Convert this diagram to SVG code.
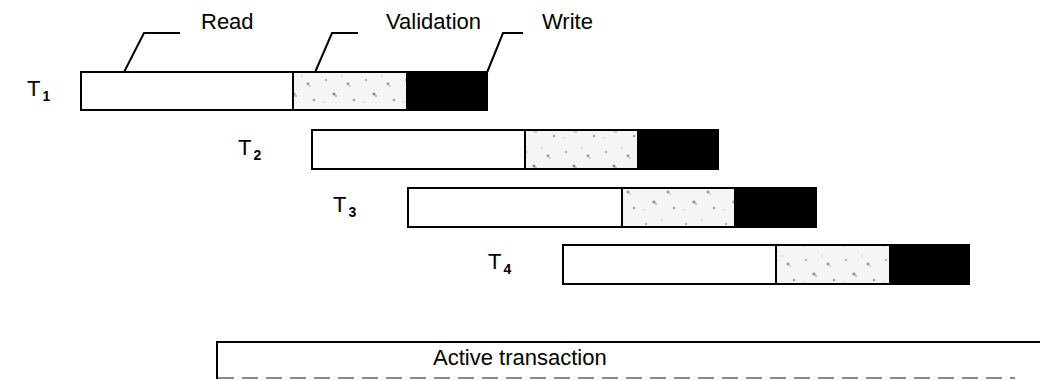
<svg xmlns="http://www.w3.org/2000/svg" width="1040" height="381" viewBox="0 0 1040 381">
<style>
.lbl{font-family:"Liberation Sans",Arial,sans-serif;font-size:22px;fill:#000}
.tl{font-family:"Liberation Sans",Arial,sans-serif;font-size:22px;fill:#000}
.sub{font-family:"Liberation Sans",Arial,sans-serif;font-size:14px;font-weight:bold;fill:#000}
.rd{fill:#fff;stroke:#000;stroke-width:2}
.vl{fill:url(#speck);stroke:#000;stroke-width:2}
.wr{fill:#000;stroke:#000;stroke-width:2}
.lead{fill:none;stroke:#000;stroke-width:2}
</style>
<defs>
<pattern id="speck" width="40" height="36" patternUnits="userSpaceOnUse">
<rect width="40" height="36" fill="#f5f5f5"/>
<circle cx="6" cy="8" r="1" fill="#999"/>
<circle cx="14" cy="22" r="1.6" fill="#888"/>
<circle cx="16" cy="24" r="1" fill="#aaa"/>
<circle cx="28" cy="12" r="1.4" fill="#999"/>
<circle cx="30" cy="14" r="0.8" fill="#aaa"/>
<circle cx="34" cy="28" r="1.2" fill="#999"/>
<circle cx="22" cy="4" r="0.8" fill="#bbb"/>
<circle cx="4" cy="30" r="0.8" fill="#bbb"/>
</pattern>
</defs>
<g id="labels">
<text class="lbl" x="201" y="29">Read</text>
<text class="lbl" x="386" y="29">Validation</text>
<text class="lbl" x="542" y="29">Write</text>
</g>
<g id="connectors">
<polyline class="lead" points="121,78 144,33 180,33"/>
<polyline class="lead" points="313,77 332,33 358,33"/>
<polyline class="lead" points="486,75 503,33 523,33"/>
</g>
<g id="T1">
<text class="tl" x="27" y="96">T<tspan class="sub" dy="5" dx="2">1</tspan></text>
<rect class="rd" x="81" y="72" width="212" height="38"/>
<rect class="vl" x="293" y="72" width="114" height="38"/>
<rect class="wr" x="407" y="72" width="80" height="38"/>
</g>
<g id="T2">
<text class="tl" x="238" y="155">T<tspan class="sub" dy="5" dx="2">2</tspan></text>
<rect class="rd" x="312" y="130" width="213" height="39"/>
<rect class="vl" x="525" y="130" width="113" height="39"/>
<rect class="wr" x="638" y="130" width="80" height="39"/>
</g>
<g id="T3">
<text class="tl" x="333" y="212">T<tspan class="sub" dy="5" dx="2">3</tspan></text>
<rect class="rd" x="408" y="188" width="214" height="39"/>
<rect class="vl" x="622" y="188" width="113" height="39"/>
<rect class="wr" x="735" y="188" width="81" height="39"/>
</g>
<g id="T4">
<text class="tl" x="488" y="269">T<tspan class="sub" dy="5" dx="2">4</tspan></text>
<rect class="rd" x="563" y="245" width="213" height="39"/>
<rect class="vl" x="776" y="245" width="114" height="39"/>
<rect class="wr" x="890" y="245" width="79" height="39"/>
</g>
<g id="active">
<line x1="217" y1="342" x2="1040" y2="342" stroke="#000" stroke-width="2"/>
<line x1="217" y1="341" x2="217" y2="379" stroke="#000" stroke-width="2"/>
<line x1="218" y1="378" x2="1015" y2="378" stroke="#888" stroke-width="2" stroke-dasharray="16,8"/>
<text class="lbl" x="433" y="365">Active transaction</text>
</g>
</svg>
